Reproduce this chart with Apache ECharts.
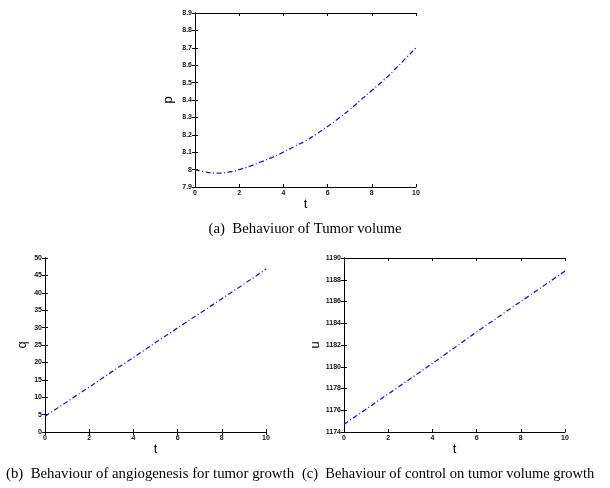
<!DOCTYPE html>
<html>
<head>
<meta charset="utf-8">
<script src="https://cdn.jsdelivr.net/npm/echarts@6/dist/echarts.min.js"></script>
<style>
html,body{margin:0;padding:0;background:#fff;}
#c{width:610px;height:488px;}
</style>
</head>
<body>
<div id="c"></div>
<script>
// Data
const tValues = [0, 0.5, 1, 1.5, 2, 2.5, 3, 3.5, 4, 4.5, 5, 5.5, 6, 6.5, 7, 7.5, 8, 8.5, 9, 9.5, 10];
const pValues = [8.0, 7.985, 7.98, 7.985, 8.0, 8.02, 8.045, 8.07, 8.10, 8.133, 8.165, 8.205, 8.248, 8.295, 8.345, 8.40, 8.455, 8.51, 8.57, 8.635, 8.70];
const tLin = [0, 1, 2, 3, 4, 5, 6, 7, 8, 9, 10];
const qValues = [4.5, 8.7, 12.9, 17.2, 21.4, 25.7, 29.9, 34.1, 38.3, 42.5, 46.8];
const uValues = [1174.7, 1176.1, 1177.5, 1178.9, 1180.3, 1181.75, 1183.2, 1184.6, 1186.0, 1187.4, 1188.8];
const captions = ['(a)  Behaviuor of Tumor volume', '(b)  Behaviour of angiogenesis for tumor growth', '(c)  Behaviour of control on tumor volume growth'];

const chart = echarts.init(document.getElementById('c'));
const grids = [
  {left: 195, top: 13, width: 221, height: 174},
  {left: 45, top: 258, width: 221, height: 174},
  {left: 344, top: 258, width: 221, height: 174}
];
const yCfg = [
  {name: 'p', min: 7.9, max: 8.9, interval: 0.1, gap: 20},
  {name: 'q', min: 0, max: 50, interval: 5, gap: 16},
  {name: 'u', min: 1174, max: 1190, interval: 2, gap: 22}
];
const fmt = v => String(+(+v).toFixed(2));
const tickLabel = {fontSize: 7, fontWeight: 'bold', color: '#111', fontFamily: 'Liberation Sans, Arial, sans-serif', margin: 3, formatter: fmt};
const line = {show: true, lineStyle: {color: '#000', width: 1}};
const tick = {show: true, inside: true, length: 3, lineStyle: {color: '#000', width: 1}};
const nameStyle = {fontSize: 13, color: '#000', fontFamily: 'Liberation Sans, Arial, sans-serif'};

const xAxis = [], yAxis = [];
grids.forEach((g, i) => {
  xAxis.push({type: 'value', gridIndex: i, min: 0, max: 10, interval: 2, position: 'bottom',
    name: 't', nameLocation: 'middle', nameGap: 11, nameTextStyle: nameStyle,
    axisLine: line, axisTick: tick, axisLabel: tickLabel, splitLine: {show: false}});
  xAxis.push({type: 'value', gridIndex: i, min: 0, max: 10, interval: 2, position: 'top',
    axisLine: line, axisTick: tick, axisLabel: {show: false}, splitLine: {show: false}});
  const y = yCfg[i];
  yAxis.push({type: 'value', gridIndex: i, min: y.min, max: y.max, interval: y.interval, position: 'left',
    name: y.name, nameLocation: 'middle', nameGap: y.gap, nameRotate: 90, nameTextStyle: nameStyle,
    axisLine: line, axisTick: tick, axisLabel: tickLabel, splitLine: {show: false}});
  yAxis.push({type: 'value', gridIndex: i, min: y.min, max: y.max, interval: y.interval, position: 'right',
    axisLine: line, axisTick: tick, axisLabel: {show: false}, splitLine: {show: false}});
});

const ls = {color: '#1a1ad8', width: 1.3, type: [5, 2.5, 1, 2.5]};
const series = [
  {type: 'line', xAxisIndex: 0, yAxisIndex: 0, data: tValues.map((t, k) => [t, pValues[k]]), smooth: true},
  {type: 'line', xAxisIndex: 2, yAxisIndex: 2, data: tLin.map((t, k) => [t, qValues[k]])},
  {type: 'line', xAxisIndex: 4, yAxisIndex: 4, data: tLin.map((t, k) => [t, uValues[k]])}
].map(s => Object.assign(s, {showSymbol: false, symbol: 'none', lineStyle: ls, silent: true, animation: false}));

const capStyle = {fill: '#000', fontFamily: 'Liberation Serif, Times New Roman, serif'};
chart.setOption({
  animation: false,
  grid: grids,
  xAxis: xAxis,
  yAxis: yAxis,
  series: series,
  graphic: [
    {type: 'text', left: 'center', top: 222, style: Object.assign({text: captions[0], fontSize: 14.8}, capStyle)},
    {type: 'text', left: 6, top: 467, style: Object.assign({text: captions[1], fontSize: 14.8}, capStyle)},
    {type: 'text', left: 302, top: 467, style: Object.assign({text: captions[2], fontSize: 14.5}, capStyle)}
  ]
});
</script>
</body>
</html>
